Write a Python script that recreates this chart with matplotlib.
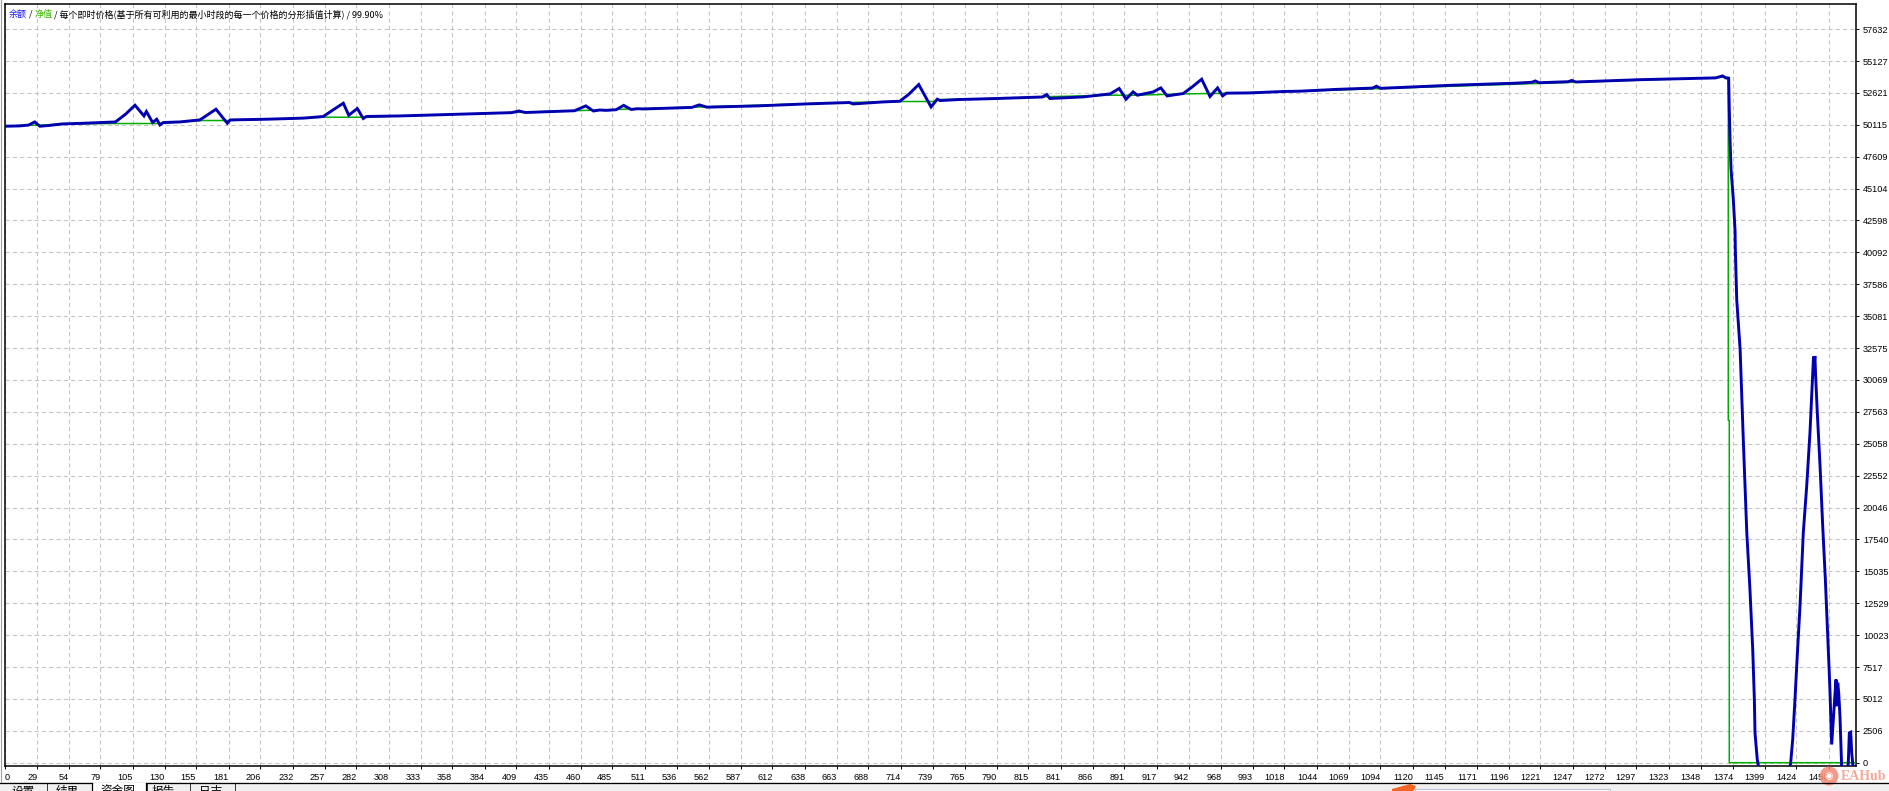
import matplotlib.pyplot as plt
from matplotlib.patches import Circle, Rectangle, Polygon

W, H = 1890, 791

# blue curve (余额): trade number, value
balance_t = [0, 4, 15, 22, 27, 31, 38, 49, 64, 79, 91, 99, 106.5, 113.6, 115.5, 120.5, 123.7,
             126.3, 129, 142, 158, 170.7, 179.7, 182, 211, 240, 255.8, 263, 271.7, 276, 282.8,
             287.5, 290, 316.7,
             330, 380, 405, 411, 416, 455, 464, 470, 475, 480, 488, 494, 500, 505, 510, 548,
             554, 560, 600, 640, 673,
             676, 700, 713, 720, 728, 737.8, 742.7, 745, 760, 789.8, 826, 829.5, 832, 858.5,
             879.7, 887, 892.4, 898, 901.4, 914, 920, 925, 937.8, 945, 952.4, 959, 965, 969,
             972, 990.7, 1017, 1030,
             1060, 1088, 1091, 1094, 1150, 1200, 1214, 1217, 1220, 1243, 1246, 1249, 1300,
             1347, 1360, 1365.5, 1368, 1370.3,
             1370.8, 1371.4, 1372.2, 1373.2, 1374, 1375.4, 1375.6, 1376.7, 1379.4, 1382,
             1384.7, 1387.2, 1389.4, 1390.7, 1391.2, 1393, 1394.5, 1418.5, 1419.5, 1421.1,
             1422.9, 1424.7, 1426.9, 1429.5, 1432.2, 1434.8, 1436.6, 1437.6, 1438.2, 1438.7,
             1439.3, 1440.6, 1442.8, 1444.9, 1447, 1448.9, 1450.1, 1450.7, 1451.5, 1452,
             1453.3, 1454.7, 1455.5, 1456, 1456.8, 1457.6, 1458.6, 1460, 1464.5, 1465.2,
             1466, 1467.1, 1467.9, 1469.2, 1471.3]
balance_v = [50000, 50003, 50030, 50090, 50340, 50003, 50060, 50185, 50230, 50295, 50340, 50950,
             51654, 50813, 51160, 50295, 50554, 50106, 50295, 50340, 50500, 51340, 50240, 50500,
             50554, 50640, 50766, 51250, 51811, 50868, 51395, 50610, 50770, 50813,
             50850, 51000, 51070, 51200, 51080, 51220, 51600, 51200, 51280, 51250, 51300, 51640,
             51320, 51380, 51360, 51480, 51680, 51500, 51600, 51760, 51866,
             51756, 51914, 51968, 52500, 53281, 51520, 52126, 52020, 52100, 52181, 52300, 52495,
             52181, 52307, 52542, 52967, 52126, 52700, 52440, 52700, 53014, 52385, 52574, 53100,
             53697, 52338, 53014, 52385, 52600, 52621, 52731, 52755,
             52900, 53000, 53150, 52980, 53220, 53380, 53450, 53560, 53420, 53500, 53600, 53480,
             53660, 53776, 53800, 53957, 53800, 53776,
             51340, 48980, 46620, 45311, 44266, 41775, 40335, 36404, 32476, 25143, 18068, 13612,
             8896, 4966, 2345, 250, -600, -600, 0, 1823, 4966, 8372, 12302, 18068, 21731, 25928,
             29858, 31900, 31300, 31950, 30377, 27500, 23302, 18585, 14397, 9940, 7065, 5490,
             3132, 1430, 3400, 5490, 6540, 4440, 6280, 5490, 3650, -600, -600, 0, 2345, 2395,
             800, -600, -600]

# green curve (净值)
equity_t = [0, 22, 31, 49, 91, 124, 142, 158, 182, 211, 256, 290, 316.7, 673, 713, 740, 743,
            790, 826, 832, 880, 900, 937, 975, 1030, 1347, 1365, 1370, 1370, 1370.8, 1370.8,
            1471.3]
equity_v = [50000, 50080, 50080, 50185, 50216, 50216, 50340, 50452, 50452, 50554, 50711, 50711,
            50813, 51866, 51945, 51945, 52100, 52181, 52300, 52330, 52440, 52440, 52540, 52600,
            52755, 53776, 53850, 53850, 26900, 26900, 0, 0]

x_tick_labels = [0, 29, 54, 79, 105, 130, 155, 181, 206, 232, 257, 282, 308, 333, 358, 384, 409,
                 435, 460, 485, 511, 536, 562, 587, 612, 638, 663, 688, 714, 739, 765, 790, 815,
                 841, 866, 891, 917, 942, 968, 993, 1018, 1044, 1069, 1094, 1120, 1145, 1171,
                 1196, 1221, 1247, 1272, 1297, 1323, 1348, 1374, 1399, 1424, 1450]
y_tick_labels = [0, 2506, 5012, 7517, 10023, 12529, 15035, 17540, 20046, 22552, 25058, 27563,
                 30069, 32575, 35081, 37586, 40092, 42598, 45104, 47609, 50115, 52621, 55127,
                 57632]

header_parts = [("余额", "#1a1aff"), (" / ", "black"), ("净值", "#3cb800"),
                (" / 每个即时价格(基于所有可利用的最小时段的每一个价格的分形插值计算) / 99.90%", "black")]
tab_labels = [("设置", 12), ("|", 46), ("结果", 56), ("资金图", 100), ("|", 146),
              ("报告", 152), ("|", 189), ("日志", 199), ("|", 234)]

cjk = ["Noto Sans CJK SC", "DejaVu Sans"]
plt.rcParams["font.family"] = ["Liberation Sans", "DejaVu Sans"]

fig = plt.figure(figsize=(W / 100, H / 100), dpi=100)
fig.patch.set_facecolor("white")

x_left, x_right = 3.4, 1471.3
ax = fig.add_axes([5 / W, 1 - 766 / H, 1851 / W, 762 / H])
ax.set_xlim(x_left, x_right)
ax.set_ylim(-260, 59606)

ax.plot(equity_t, equity_v, color="#00b000", lw=1.1, zorder=3)
ax.plot(balance_t, balance_v, color="#0000b0", lw=2.1, zorder=4, solid_joinstyle="miter")

ax.set_xticks([x_left] + x_tick_labels[1:])
ax.set_xticklabels([str(v) for v in x_tick_labels])
for i, lbl in enumerate(ax.get_xticklabels()):
    lbl.set_ha("left" if i == 0 else "right")
ax.set_yticks(y_tick_labels)
ax.set_yticklabels([str(v) for v in y_tick_labels])

ax.tick_params(axis="x", direction="out", length=2.5, width=0.7, pad=2.5, labelsize=6.6)
ax.tick_params(axis="y", direction="out", length=2.5, width=0.7, pad=2.5, labelsize=6.6,
               left=False, labelleft=False, right=True, labelright=True)
ax.grid(True, color="#c4c4c4", linestyle=(0, (4, 3)), linewidth=0.75)
ax.set_axisbelow(True)
for sp in ax.spines.values():
    sp.set_linewidth(1.1)
    sp.set_color("black")

# header line inside the plot
renderer = fig.canvas.get_renderer()
x = 9
for s, c in header_parts:
    t = fig.text(x / W, 1 - 14.5 / H, s, color=c, fontsize=6.5, family=cjk,
                 va="center", ha="left")
    x = t.get_window_extent(renderer).x1

# window chrome drawn in pixel coordinates
ov = fig.add_axes([0, 0, 1, 1], zorder=5)
ov.set_xlim(0, W)
ov.set_ylim(H, 0)
ov.axis("off")
ov.add_patch(Rectangle((0, 782), W, 10, facecolor="#f0f0f0", edgecolor="none"))
ov.plot([0, 92], [782.5, 782.5], color="black", lw=0.9)
ov.plot([146, W], [782.5, 782.5], color="black", lw=0.9)
ov.plot([92, 92], [782.5, 792], color="black", lw=0.9)
ov.plot([146, 146], [782.5, 792], color="black", lw=0.9)
ov.add_patch(Rectangle((92.5, 783), 53, 9, facecolor="white", edgecolor="none"))
ov.plot([1, 1], [0, 782], color="#a0a0a0", lw=0.8)
for s, px in tab_labels:
    ov.text(px, 784.5, s, fontsize=8.4, family=cjk, va="top", ha="left", color="black")
ov.add_patch(Rectangle((1415, 788.5), 195, 6, facecolor="white", edgecolor="#b8c4d4", lw=0.8))
ov.add_patch(Polygon([[1392, 789], [1410, 784], [1416, 786], [1413, 792], [1392, 792]],
                     closed=True, facecolor="#f26522", edgecolor="none"))

# watermark
ov.add_patch(Circle((1829, 776), 9.5, facecolor="#f28a73", edgecolor="none", alpha=0.85))
ov.text(1829, 776.5, "◉", fontsize=7, color="white", ha="center", va="center",
        family=["DejaVu Sans"])
ov.text(1841, 776.5, "EAHub", fontsize=10, color="#f4a08c", fontweight="bold",
        family=["Liberation Serif", "DejaVu Serif"], ha="left", va="center", alpha=0.9)

fig.savefig("out.png", dpi=100)
